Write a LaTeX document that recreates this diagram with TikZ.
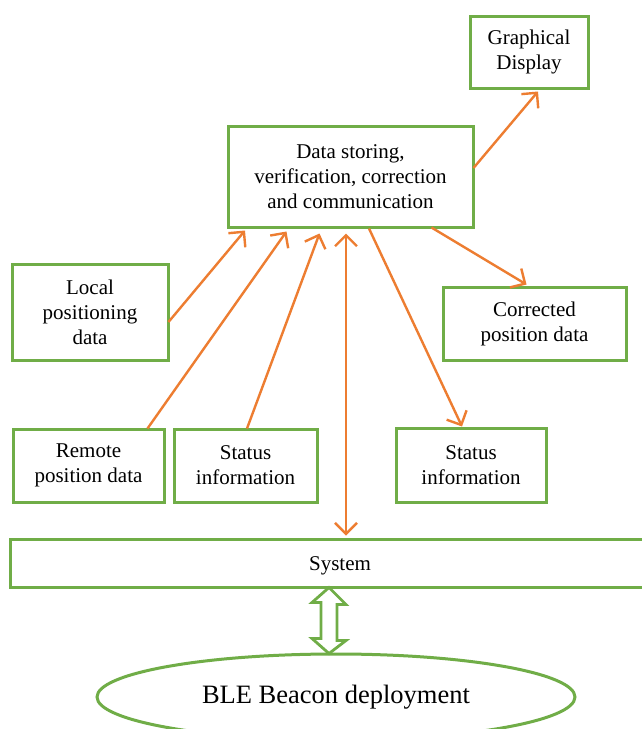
\documentclass[tikz,border=0pt]{standalone}
\usepackage{fontspec}
\setmainfont{Liberation Serif}
\usetikzlibrary{arrows.meta,calc,shapes.geometric}
\definecolor{boxgreen}{HTML}{70AD47}
\definecolor{arrorange}{HTML}{ED7D31}
\tikzset{
  gbox/.style={draw=boxgreen,line width=3pt,rectangle,align=center,inner sep=0pt,
    font=\fontsize{21}{25}\selectfont},
  oarrow/.style={draw=arrorange,line width=2.4pt,-{Straight Barb[length=11pt,width=22pt]}},
  oboth/.style={draw=arrorange,line width=2.4pt,{Straight Barb[length=11pt,width=22pt]}-{Straight Barb[length=11pt,width=22pt]}},
  garrow/.style={draw=boxgreen,line width=2.8pt,fill=white,line join=miter}
}
\begin{document}
\begin{tikzpicture}[x=1pt,y=-1pt]
\useasboundingbox (0,0) rectangle (641,729);
\fill[white] (0,0) rectangle (641,729);
% boxes
\node[gbox,minimum width=118pt,minimum height=72pt] (gd) at (529,52) {Graphical\\Display};
\node[gbox,minimum width=245pt,minimum height=101pt] (data) at (350.5,176.5) {Data storing,\\verification, correction\\and communication};
\node[gbox,minimum width=156pt,minimum height=96pt] (local) at (90,312) {Local\\positioning\\data};
\node[gbox,minimum width=183pt,minimum height=73pt] (corr) at (534.5,323.5) {Corrected\\position data};
\node[gbox,minimum width=151pt,minimum height=73pt] (remote) at (88.5,465.5) {Remote\\position data};
\node[gbox,minimum width=143pt,minimum height=73pt] (stat1) at (245.5,465.5) {Status\\information};
\node[gbox,minimum width=150pt,minimum height=74pt] (stat2) at (471,465) {Status\\information};
\node[gbox,minimum width=660pt,minimum height=48pt,text height=14pt,text depth=0pt] (sys) at (340,563) {System};
\node[draw=boxgreen,line width=3pt,ellipse,minimum width=478pt,minimum height=86pt,inner sep=0pt,
  font=\fontsize{26.5}{30}\selectfont] (ble) at (336,697) {BLE Beacon deployment};
% orange connectors
\draw[oarrow] ($(local.east)+(-1,10)$) -- ($(data.south west)+(18.5,2)$);
\draw[oarrow] ($(remote.north east)+(-18,1)$) -- ($(data.south west)+(60,3)$);
\draw[oarrow] ($(stat1.north)+(1.5,1)$) -- ($(data.south west)+(93,5)$);
\draw[oboth] ($(sys.north)+(6,-2)$) -- ($(data.south)+(-4.5,5)$);
\draw[oarrow] ($(data.south)+(18.5,0)$) -- ($(stat2.north)+(-9,0)$);
\draw[oarrow] ($(data.south east)+(-43,-1)$) -- ($(corr.north)+(-8,-1)$);
\draw[oarrow] ($(data.east)+(-1,-8.5)$) -- ($(gd.south)+(9,2)$);
% green hollow double arrow
\coordinate (ga) at ($(sys.south)+(-11,-1)$);
\coordinate (gb) at ($(ble.north)+(-7,1)$);
\draw[garrow] (ga) -- ++(17,17) -- ++(-9,0) -- ++(0,36) -- ++(9,0)
  -- (gb) -- ++(-17,-15) -- ++(9,0) -- ++(0,-36) -- ++(-9,0) -- cycle;
\end{tikzpicture}
\end{document}
